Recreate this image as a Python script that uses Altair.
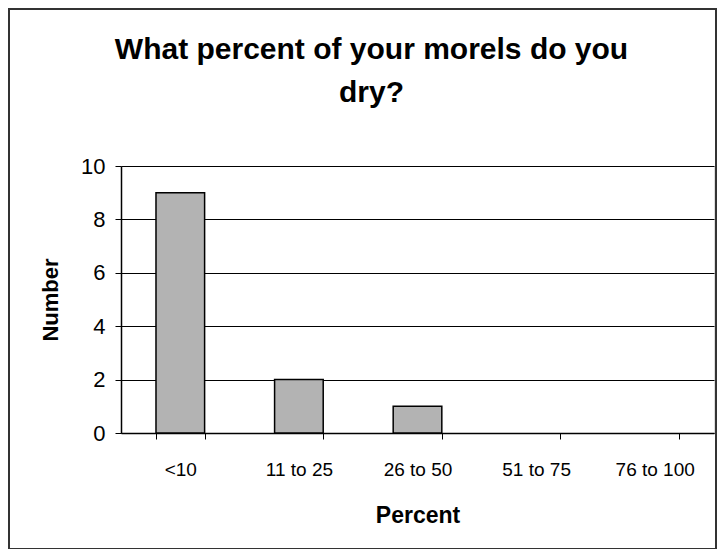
import altair as alt
import pandas as pd

categories = ["<10", "11 to 25", "26 to 50", "51 to 75", "76 to 100"]
counts = [9, 2, 1, 0, 0]

df = pd.DataFrame({"Percent": categories, "Number": counts})

W, H = 593, 267
FONT = "Liberation Sans"

bars = alt.Chart(df).mark_bar(
    color="#b3b3b3", stroke="#000000", strokeWidth=1.5
).encode(
    x=alt.X("Percent:N", sort=categories,
            scale=alt.Scale(paddingInner=0.59, paddingOuter=0.295),
            axis=alt.Axis(title="Percent", labelAngle=0, tickBand="extent",
                          labelFontSize=19, labelPadding=21, labelColor="#000",
                          labelFont=FONT, titleFont=FONT, titleFontSize=23,
                          titleFontWeight="bold", titleColor="#000",
                          titlePadding=25, tickSize=6, tickColor="#000",
                          domainColor="#000", domainWidth=1.5, grid=False)),
    y=alt.Y("Number:Q", scale=alt.Scale(domain=[0, 10]),
            axis=alt.Axis(title="Number", values=[0, 2, 4, 6, 8, 10],
                          labelFontSize=22, labelColor="#000", labelFont=FONT,
                          labelPadding=10, titleFont=FONT, titleFontSize=22,
                          titleFontWeight="bold", titleColor="#000",
                          titlePadding=18, tickSize=6, tickColor="#000",
                          domainColor="#000", domainWidth=1.5,
                          grid=True, gridColor="#000", gridWidth=1.2)),
    strokeOpacity=alt.condition("datum.Number > 0", alt.value(1), alt.value(0)),
)

frame = alt.Chart(df).mark_rect(
    fill=None, stroke="#333333", strokeWidth=2, clip=False
).encode(
    x=alt.value(-112), x2=alt.value(W + 2),
    y=alt.value(-157), y2=alt.value(H + 116),
)

chart = alt.layer(bars, frame).properties(
    width=W, height=H,
    autosize=alt.AutoSizeParams(type="none"),
    padding={"left": 113, "top": 158, "right": 709 - 113 - W, "bottom": 541 - 158 - H},
    title=alt.TitleParams(
        text=["What percent of your morels do you", "dry?"],
        font=FONT, fontSize=30, fontWeight="bold", color="#000",
        anchor="middle", dx=-46, offset=0, dy=100, lineHeight=43,
    ),
).configure_view(
    fill="#d5d5d5", stroke="#444444", strokeWidth=1.5
).configure(background="#ffffff")

chart.save("out.html", embed_options={"renderer": "svg", "actions": False})
